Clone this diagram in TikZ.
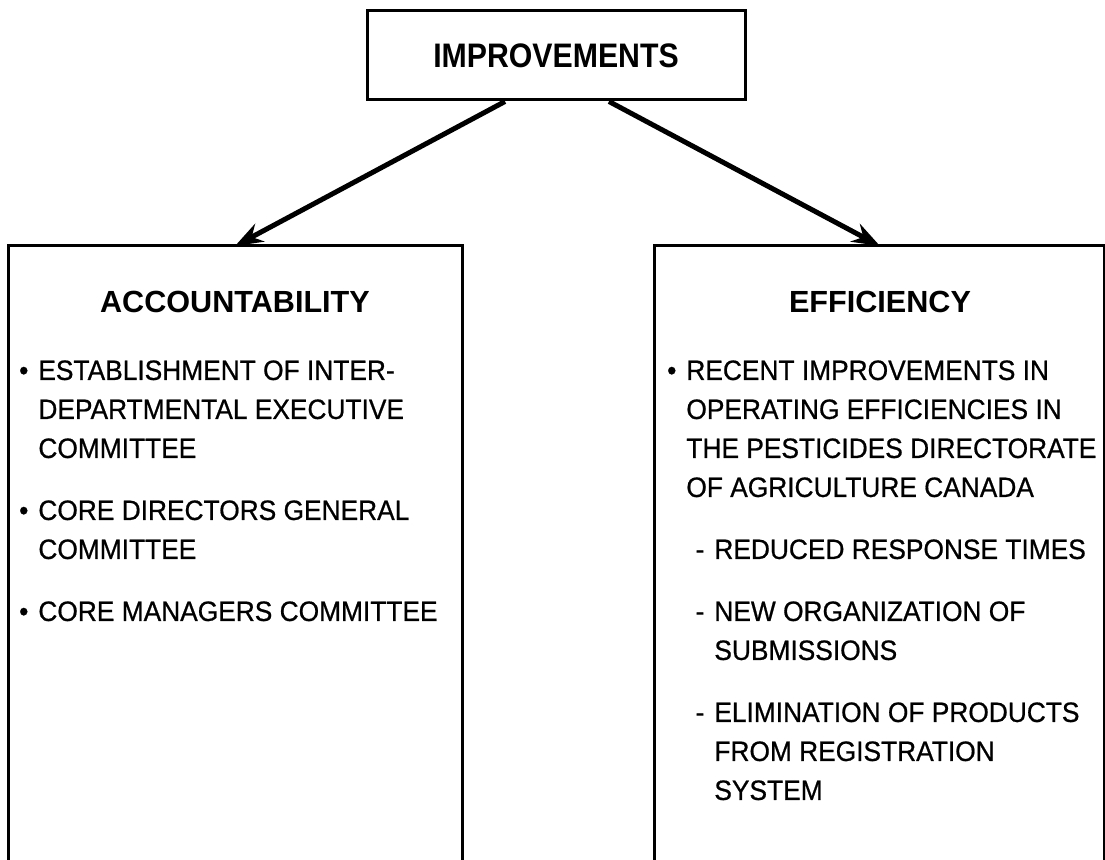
\documentclass[tikz,border=0pt]{standalone}
\usepackage{fontspec}
\setmainfont{Liberation Sans}
\newfontfamily\narrowfont{Liberation Sans}[FakeStretch=0.94,FakeBold=0.7]
\newfontfamily\headfont{Liberation Sans}[FakeStretch=0.89]
\usetikzlibrary{arrows.meta, positioning}

\begin{document}
\begin{tikzpicture}[x=0.5pt,y=-0.5pt]
    \tikzstyle{frame}=[draw,line width=1.5pt]
    \tikzstyle{title}=[font=\bfseries\fontsize{15.3}{18}\selectfont,inner sep=0pt,anchor=north]
    \tikzstyle{item}=[font=\narrowfont\fontsize{14}{19.5}\selectfont,align=left,inner sep=0pt,anchor=north west]
    \tikzstyle{edge}=[draw,line width=2.5pt,-{Stealth[length=14pt,width=10pt]}]

    \useasboundingbox (0,0) rectangle (1105,860);
    \clip (0,0) rectangle (1105,860);

    % top box
    \node[frame,minimum width=189pt,minimum height=44.5pt,inner sep=0pt] (top) at (556,55.5) {};
    \node[font=\headfont\bfseries\fontsize{17}{20}\selectfont,inner sep=0pt] (toptext) at (top) {IMPROVEMENTS};

    % lower boxes, open at the bottom
    \draw[frame] (8,880) |- (462,246) -- (462,880);
    \draw[frame] (654,880) |- (1104,246) -- (1104,880);
    \coordinate (acc) at (235,246);
    \coordinate (eff) at (880,246);

    \path[edge] (top.south -| 505,0) -- (acc);
    \path[edge] (top.south -| 609,0) -- (eff);

    % accountability
    \node[title] (acctitle) at (235,291) {ACCOUNTABILITY};
    \node[item] (a1) at (38,360) {\llap{\textbullet\hspace{5pt}}ESTABLISHMENT OF INTER-\\DEPARTMENTAL EXECUTIVE\\COMMITTEE};
    \node[item] (a2) at (38,500) {\llap{\textbullet\hspace{5pt}}CORE DIRECTORS GENERAL\\COMMITTEE};
    \node[item] (a3) at (38,601) {\llap{\textbullet\hspace{5pt}}CORE MANAGERS COMMITTEE};

    % efficiency
    \node[title] (efftitle) at (880,291) {EFFICIENCY};
    \node[item] (e1) at (686,360) {\llap{\textbullet\hspace{5pt}}RECENT IMPROVEMENTS IN\\OPERATING EFFICIENCIES IN\\THE PESTICIDES DIRECTORATE\\OF AGRICULTURE CANADA};
    \node[item] (e2) at (714,539) {\llap{-\hspace{5pt}}REDUCED RESPONSE TIMES};
    \node[item] (e3) at (714,601) {\llap{-\hspace{5pt}}NEW ORGANIZATION OF\\SUBMISSIONS};
    \node[item] (e4) at (714,702) {\llap{-\hspace{5pt}}ELIMINATION OF PRODUCTS\\FROM REGISTRATION\\SYSTEM};
\end{tikzpicture}
\end{document}
